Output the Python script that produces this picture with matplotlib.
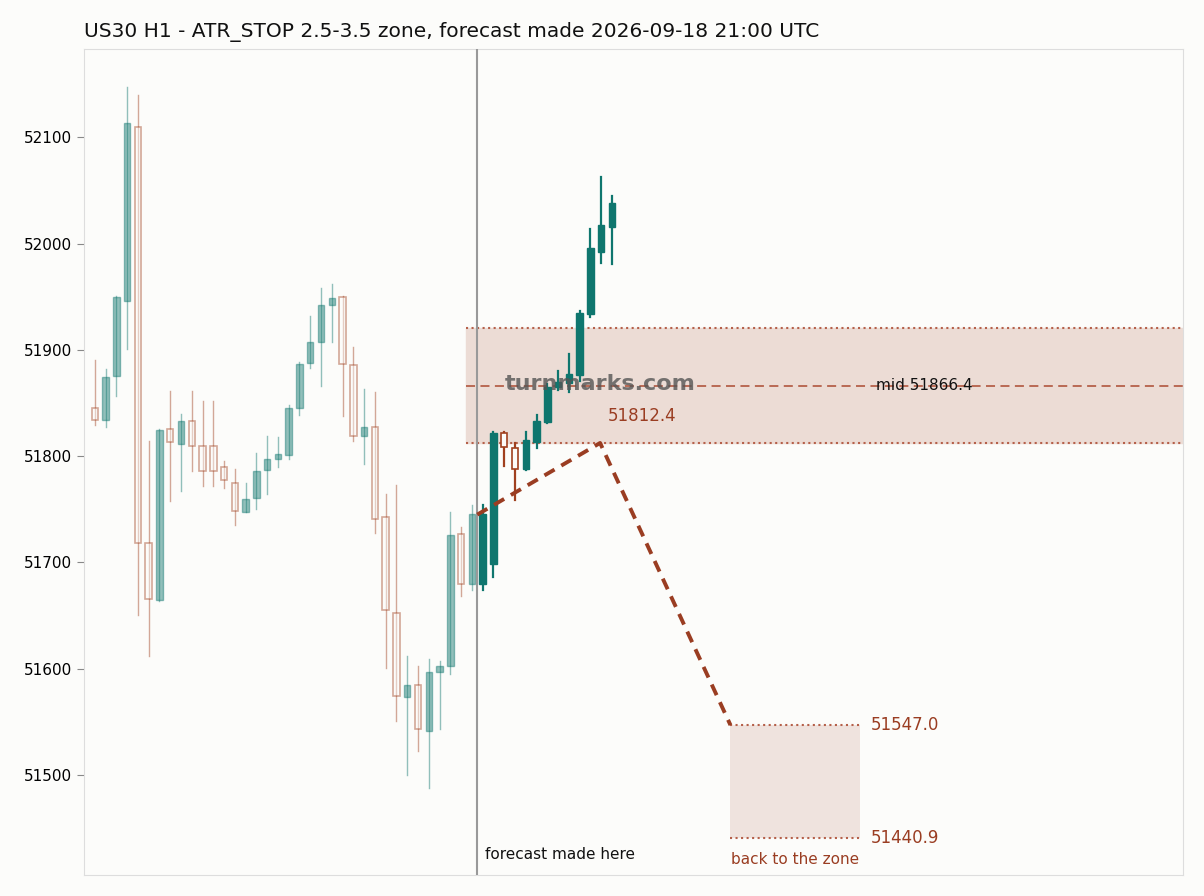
import matplotlib
matplotlib.use("Agg")
import matplotlib.pyplot as plt
from matplotlib.patches import Rectangle

# past candles (before forecast)
p_open  = [51845,51834,51875,51946,52110,51718,51665,51826,51811,51833,51810,51810,51790,51775,51747,51761,51787,51797,
           51801,51845,51888,51907,51942,51950,51886,51819,51827,51743,51652,51573,51585,51541,51597,51603,51727,51680]
p_close = [51834,51874,51950,52113,51718,51666,51825,51813,51833,51810,51786,51786,51778,51748,51760,51786,51797,51802,
           51845,51887,51907,51942,51949,51887,51819,51827,51741,51655,51574,51585,51543,51597,51603,51726,51680,51746]
p_high  = [51890,51882,51951,52147,52140,51814,51826,51861,51840,51861,51852,51852,51795,51788,51775,51803,51819,51818,
           51848,51889,51932,51958,51962,51951,51903,51863,51860,51764,51773,51612,51603,51609,51607,51747,51733,51754]
p_low   = [51829,51827,51857,51901,51651,51612,51664,51758,51767,51786,51772,51772,51770,51735,51747,51750,51764,51790,
           51797,51839,51883,51866,51907,51838,51814,51793,51728,51601,51551,51500,51523,51488,51543,51595,51668,51674]
# candles after forecast
f_open  = [51680,51699,51822,51808,51788,51813,51832,51865,51869,51876,51934,51992,52016]
f_close = [51746,51822,51809,51788,51815,51833,51865,51870,51877,51935,51996,52017,52038]
f_high  = [51754,51823,51823,51812,51823,51839,51868,51880,51896,51937,52014,52063,52045]
f_low   = [51674,51686,51791,51759,51787,51808,51831,51862,51860,51871,51931,51982,51981]

zone_top, zone_mid, zone_bot = 51921.0, 51866.4, 51812.4
target_hi, target_lo = 51547.0, 51440.9
path_x = [35.5, 46.9, 59.0]
path_y = [51745.0, 51812.4, 51547.0]

BULL = "#0f766e"; BEAR = "#a0401f"; LINE = "#9a3d22"
fig = plt.figure(figsize=(12.04, 8.96), dpi=100, facecolor="#fcfcfa")
ax = fig.add_axes([84/1204, 21/896, 1099/1204, 826/896])
ax.set_facecolor("#fcfcfa")

def candles(xs, o, c, h, l, alpha, lw):
    for x, oo, cc, hh, ll in zip(xs, o, c, h, l):
        bull = cc >= oo
        col = BULL if bull else BEAR
        ax.plot([x, x], [ll, hh], color=col, lw=lw, alpha=alpha, zorder=3)
        lo, hi = min(oo, cc), max(oo, cc)
        if bull:
            ax.add_patch(Rectangle((x-0.3, lo), 0.6, max(hi-lo, 0.5), facecolor=col, edgecolor=col, alpha=alpha, lw=1, zorder=4))
        else:
            ax.add_patch(Rectangle((x-0.3, lo), 0.6, max(hi-lo, 0.5), facecolor="#fcfcfa", edgecolor=col, alpha=alpha, lw=1.2, zorder=4))

candles(range(len(p_open)), p_open, p_close, p_high, p_low, 0.45, 1.0)
candles(range(36, 36+len(f_open)), f_open, f_close, f_high, f_low, 1.0, 1.6)

ax.axhspan(zone_bot, zone_top, xmin=(34.5+1)/102, xmax=1, color="#ecdcd5", zorder=1)
ax.plot([34.5, 101], [zone_top]*2, ls=":", color="#b5604a", lw=1.5, zorder=2)
ax.plot([34.5, 101], [zone_bot]*2, ls=":", color="#b5604a", lw=1.5, zorder=2)
ax.plot([34.5, 101], [zone_mid]*2, ls=(0, (5, 3)), color="#b5604a", lw=1.3, zorder=2)
ax.text(72.5, zone_mid, f"mid {zone_mid}", fontsize=11, va="center", color="#111")
ax.text(47.6, zone_bot+25, f"{zone_bot}", fontsize=12, color=LINE, va="center")

ax.add_patch(Rectangle((59, target_lo), 12, target_hi-target_lo, facecolor="#efe3de", zorder=1))
ax.plot([59, 71], [target_hi]*2, ls=":", color="#b5604a", lw=1.5)
ax.plot([59, 71], [target_lo]*2, ls=":", color="#b5604a", lw=1.5)
ax.text(72, target_hi, f"{target_hi}", fontsize=12, color=LINE, va="center")
ax.text(72, target_lo, f"{target_lo}", fontsize=12, color=LINE, va="center")
ax.text(65, target_lo-13, "back to the zone", fontsize=11, color=LINE, ha="center", va="top")

ax.plot(path_x, path_y, ls=(0, (3, 2)), color=LINE, lw=2.8, zorder=6)
ax.axvline(35.5, color="#999", lw=1.5, zorder=5)
ax.text(36.2, 51418, "forecast made here", fontsize=11, color="#111", va="bottom")
ax.text(0.47, 0.595, "turnmarks.com", transform=ax.transAxes, fontsize=16, fontweight="bold",
        color="#555", alpha=0.8, ha="center", va="center", zorder=7)

ax.set_xlim(-1, 101)
ax.set_ylim(51406, 52183)
ax.set_xticks([])
ax.set_yticks([51500, 51600, 51700, 51800, 51900, 52000, 52100])
ax.tick_params(axis="y", labelsize=11, length=5, color="#888")
for s in ax.spines.values():
    s.set_color("#dddddd")
fig.text(84/1204, 1-32/896, "US30 H1 - ATR_STOP 2.5-3.5 zone, forecast made 2026-09-18 21:00 UTC",
         fontsize=14.5, va="center", color="#111")
fig.savefig("out.png", dpi=100, facecolor=fig.get_facecolor())
